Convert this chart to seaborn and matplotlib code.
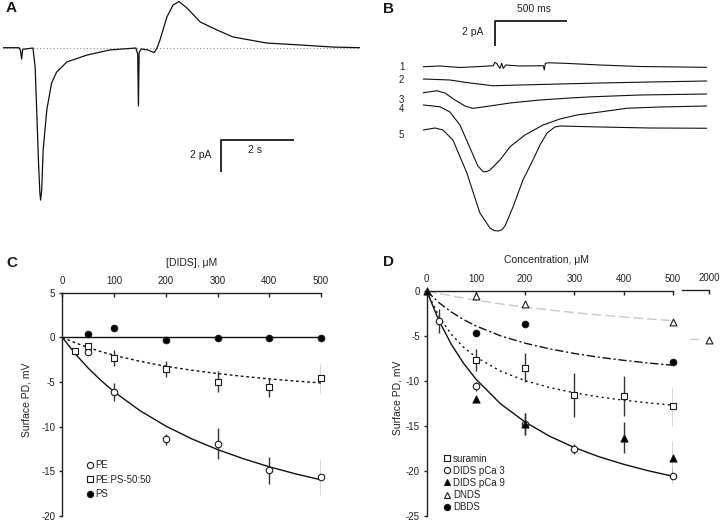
import matplotlib
matplotlib.use("Agg")
import matplotlib.pyplot as plt
import seaborn as sns
import numpy as np
from matplotlib.lines import Line2D

# ---------------- data ----------------
# Panel A: current trace (time in s, current in pA)
a_time = [0, 0.44, 0.48, 0.51, 0.54, 0.82, 0.88, 0.93, 0.97, 1.01, 1.03, 1.06, 1.10,
          1.20, 1.33, 1.47, 1.61, 1.75, 2.30, 2.93, 3.64, 3.69, 3.71, 3.73, 3.79,
          3.97, 4.14, 4.22, 4.30, 4.49, 4.66, 4.82, 5.04, 5.40, 5.86, 6.30, 7.23,
          8.14, 9.04, 9.78]
a_current = [0, 0, -0.2, -0.71, -0.1, -0.02, -1.2, -4.33, -7.0, -9.08, -9.52, -8.9,
             -6.39, -3.89, -2.21, -1.52, -1.21, -0.89, -0.46, -0.14, -0.02, -0.4,
             -3.64, -0.3, -0.08, -0.14, -0.31, -0.02, 0.48, 1.92, 2.67, 2.88, 2.48,
             1.61, 1.11, 0.67, 0.29, 0.17, 0.04, 0]

# Panel B: five current traces (time in s, current in pA, relative to own baseline)
b_labels = ["1", "2", "3", "4", "5"]
b_t1 = [0, 0.116, 0.256, 0.395, 0.488, 0.500, 0.512, 0.535, 0.547, 0.558, 0.575,
        0.674, 0.837, 0.844, 0.851, 0.872, 1.000, 1.232, 1.511, 1.790, 1.976]
b_i1 = [0, 0.06, -0.06, 0.02, 0.08, 0.35, 0.27, -0.13, 0.27, -0.13, 0.14, 0.06,
        0.08, -0.26, 0.27, 0.32, 0.27, 0.14, 0.02, -0.02, -0.05]
b_t2 = [0, 0.186, 0.326, 0.486, 0.674, 0.953, 1.232, 1.581, 1.976]
b_i2 = [0, -0.08, -0.32, -0.54, -0.48, -0.40, -0.32, -0.24, -0.16]
b_t3 = [0, 0.096, 0.151, 0.221, 0.291, 0.346, 0.465, 0.605, 0.814, 1.023, 1.183,
        1.511, 1.976]
b_i3 = [0, 0.16, -0.02, -0.58, -1.06, -1.25, -1.06, -0.82, -0.58, -0.42, -0.32,
        -0.18, -0.10]
b_t4 = [0, 0.116, 0.186, 0.256, 0.326, 0.381, 0.418, 0.444, 0.465, 0.535, 0.605,
        0.709, 0.835, 0.953, 1.072, 1.232, 1.420, 1.651, 1.976]
b_i4 = [0, -0.14, -0.56, -1.6, -3.44, -4.88, -5.34, -5.32, -5.2, -4.4, -3.34, -2.4,
        -1.6, -1.12, -0.8, -0.56, -0.26, -0.16, -0.08]
b_t5 = [0, 0.082, 0.137, 0.207, 0.304, 0.395, 0.465, 0.493, 0.523, 0.549, 0.570,
        0.626, 0.695, 0.765, 0.814, 0.863, 0.918, 0.953, 1.232, 1.581, 1.976]
b_i5 = [0, 0.16, 0, -0.8, -3.44, -6.64, -7.84, -8.04, -8.08, -7.98, -7.68, -6.16,
        -4.0, -2.4, -1.2, -0.24, 0.24, 0.32, 0.24, 0.16, 0.14]

# Panel C: surface potential vs [DIDS]
c_pe_x = [50, 100, 200, 300, 400, 500]
c_pe_y = [-1.6, -6.1, -11.4, -11.9, -14.9, -15.6]
c_pe_err = [0, 1.0, 0.6, 1.7, 1.5, 2.0]
c_peps_x = [25, 50, 100, 200, 300, 400, 500]
c_peps_y = [-1.5, -0.95, -2.35, -3.55, -4.95, -5.6, -4.6]
c_peps_err = [0, 0.2, 0.9, 0.9, 1.2, 1.1, 1.6]
c_ps_x = [50, 100, 200, 300, 400, 500]
c_ps_y = [0.4, 1.1, -0.3, -0.1, -0.05, -0.1]
c_fit_x = [0, 25, 50, 75, 100, 150, 200, 250, 300, 350, 400, 450, 500]
c_fit_pe = [0, -1.84, -3.44, -4.84, -6.09, -8.20, -9.93, -11.36, -12.56, -13.59,
            -14.49, -15.27, -15.95]
c_fit_peps = [0, -0.61, -1.14, -1.60, -2.00, -2.68, -3.23, -3.68, -4.05, -4.37,
              -4.65, -4.89, -5.10]
c_fit_ps = [0] * 13
c_legend = ["PE", "PE:PS-50:50", "PS"]

# Panel D: surface potential vs concentration
d_sur_x = [100, 200, 300, 400, 500]
d_sur_y = [-7.65, -8.5, -11.55, -11.65, -12.8]
d_sur_err = [1.25, 1.65, 2.4, 2.2, 2.15]
d_p3_x = [25, 100, 200, 300, 500]
d_p3_y = [-3.33, -10.6, -14.8, -17.55, -20.5]
d_p3_err = [1.3, 0.5, 1.2, 0.6, 0.9]
d_p9_x = [0, 100, 200, 400, 500]
d_p9_y = [0, -11.95, -14.8, -16.3, -18.6]
d_p9_err = [0, 0, 1.2, 1.7, 1.9]
d_dnds_x = [100, 200, 500]
d_dnds_y = [-0.55, -1.4, -3.4]
d_dnds_2000 = -5.6
d_dbds_x = [100, 200, 500]
d_dbds_y = [-4.63, -3.65, -7.9]
d_fit_x = [0, 25, 50, 75, 100, 150, 200, 250, 300, 350, 400, 450, 500]
d_fit_sur = [0, -2.85, -4.81, -6.25, -7.34, -8.90, -9.96, -10.73, -11.31, -11.76,
             -12.13, -12.43, -12.68]
d_fit_p3 = [0, -3.30, -5.92, -8.04, -9.79, -12.53, -14.56, -16.14, -17.39, -18.41,
            -19.25, -19.97, -20.58]
d_fit_dbds = [0, -1.30, -2.33, -3.18, -3.88, -4.98, -5.80, -6.43, -6.94, -7.36,
              -7.70, -8.00, -8.25]
d_fit_dnds = [0, -0.28, -0.54, -0.79, -1.02, -1.43, -1.79, -2.11, -2.40, -2.66,
              -2.89, -3.10, -3.30]
d_fit_dnds_hi_x = [1963, 1978]
d_fit_dnds_hi = [-5.55, -5.57]
d_legend = ["suramin", "DIDS pCa 3", "DIDS pCa 9", "DNDS", "DBDS"]

# ---------------- style ----------------
sns.set_theme(style="ticks")
plt.rcParams['font.family'] = ['Liberation Sans', 'DejaVu Sans']
plt.rcParams['axes.unicode_minus'] = False
TXT = '#222222'
W, H = 720, 521
fig = plt.figure(figsize=(7.2, 5.21), dpi=100)


def add_ax(x0, y0, x1, y1):
    ax = fig.add_axes([x0 / W, 1 - y1 / H, (x1 - x0) / W, (y1 - y0) / H])
    ax.patch.set_alpha(0)
    return ax


def line(ax, x, y, **kw):
    sns.lineplot(x=x, y=y, ax=ax, sort=False, estimator=None, legend=False, **kw)


# ---------------- panel A ----------------
axA = add_ax(3, 0, 360, 210)
axA.set_xlim(0, 9.78)
axA.set_ylim(-10.14, 2.98)
axA.axis('off')
line(axA, [a_time[0], a_time[-1]], [0, 0], color='#8c8c8c', linestyle=(0, (1, 2)), lw=0.8)
line(axA, a_time, a_current, color='#111111', lw=0.9)
axA.plot([5.97, 5.97, 7.98], [-7.75, -5.77, -5.77], color='k', lw=1.3, solid_capstyle='butt')
axA.text(5.70, -6.71, "2 pA", ha='right', va='center', fontsize=7.5, color=TXT)
axA.text(6.90, -6.39, "2 s", ha='center', va='center', fontsize=7.5, color=TXT)
fig.text(6 / W, 1 - 8.5 / H, "A", fontsize=11, fontweight='bold', va='center', ha='left', color='k')

# ---------------- panel B ----------------
axB = add_ax(360, 0, 720, 245)
axB.set_xlim(-0.441, 2.069)
axB.set_ylim(-14.26, 5.34)
axB.axis('off')
b_offsets = [0, -0.98, -2.08, -3.06, -5.06]
b_label_y = [0, -1.06, -2.66, -3.38, -5.46]
for (t, i), off, lab, ly in zip([(b_t1, b_i1), (b_t2, b_i2), (b_t3, b_i3), (b_t4, b_i4), (b_t5, b_i5)],
                                b_offsets, b_labels, b_label_y):
    line(axB, t, [v + off for v in i], color='#111111', lw=0.8)
    axB.text(-0.151, ly, lab, ha='center', va='center', fontsize=7, color=TXT)
axB.plot([0.5, 0.5, 1.0], [1.68, 3.68, 3.68], color='k', lw=1.3, solid_capstyle='butt')
axB.text(0.418, 2.8, "2 pA", ha='right', va='center', fontsize=7.5, color=TXT)
axB.text(0.772, 4.62, "500 ms", ha='center', va='center', fontsize=7.5, color=TXT)
fig.text(383 / W, 1 - 9 / H, "B", fontsize=11, fontweight='bold', va='center', ha='left', color='k')


def style_axis(ax, xticks, yticks, xlabel, ylabel, ylab_x, ylab_y):
    sns.despine(ax=ax, top=False, right=True, bottom=True, left=False)
    for s in ('top', 'left'):
        ax.spines[s].set_linewidth(1.0)
        ax.spines[s].set_color('#222222')
    ax.xaxis.tick_top()
    ax.xaxis.set_label_position('top')
    ax.set_xticks(xticks)
    ax.set_yticks(yticks)
    ax.set_yticklabels([str(v) for v in yticks])
    ax.tick_params(axis='x', direction='in', length=3, width=1, pad=5, labelsize=7, colors=TXT)
    ax.tick_params(axis='y', direction='out', length=2.5, width=1, pad=2.5, labelsize=7, colors=TXT)
    ax.set_xlabel(xlabel, fontsize=7.5, color=TXT)
    ax.set_ylabel(ylabel, fontsize=7.5, color=TXT)
    ax.yaxis.set_label_coords(ylab_x, ylab_y)


def errbars(ax, x, y, e):
    lo = [a - b for a, b in zip(y, e)]
    hi = [a + b for a, b in zip(y, e)]
    ax.vlines(x, lo, hi, color='#333333', lw=1.0, zorder=2)


def pts(ax, x, y, marker, face, s=22, **kw):
    sns.scatterplot(x=x, y=y, ax=ax, marker=marker, s=s, color=face, edgecolor='k',
                    linewidth=0.8, zorder=5, clip_on=False, legend=False, **kw)


# ---------------- panel C ----------------
axC = add_ax(62.3, 292.7, 321, 516)
axC.set_xlim(0, 500)
axC.set_ylim(-20, 5)
style_axis(axC, [0, 100, 200, 300, 400, 500], [5, 0, -5, -10, -15, -20],
           "[DIDS], μM", "Surface PD, mV", -0.118, 0.52)
axC.xaxis.set_label_coords(0.5, 1.12)
line(axC, c_fit_x, c_fit_ps, color='#111111', lw=1.0)
line(axC, c_fit_x, c_fit_pe, color='#111111', lw=1.0)
line(axC, c_fit_x, c_fit_peps, color='#111111', lw=1.0, linestyle=(0, (2, 2)))
errbars(axC, c_pe_x, c_pe_y, c_pe_err)
errbars(axC, c_peps_x, c_peps_y, c_peps_err)
pts(axC, c_pe_x, c_pe_y, 'o', 'white')
pts(axC, c_peps_x, c_peps_y, 's', 'white')
pts(axC, c_ps_x, c_ps_y, 'o', 'black')
hC = [Line2D([], [], ls='none', marker='o', mfc='white', mec='k', ms=4.5, mew=0.8),
      Line2D([], [], ls='none', marker='s', mfc='white', mec='k', ms=4.5, mew=0.8),
      Line2D([], [], ls='none', marker='o', mfc='black', mec='k', ms=4.5, mew=0.8)]
legC = axC.legend(hC, c_legend, loc='upper left', bbox_to_anchor=(86.9 / W, 1 - 460 / H),
                  bbox_transform=fig.transFigure, frameon=False, fontsize=7,
                  handlelength=0.6, handletextpad=0.3, labelspacing=0.48,
                  borderpad=0, borderaxespad=0)
for t in legC.get_texts():
    t.set_color(TXT)
fig.text(6.5 / W, 1 - 263 / H, "C", fontsize=11, fontweight='bold', va='center', ha='left', color='k')

# ---------------- panel D ----------------
axD = add_ax(426.7, 291, 672.7, 516)
axD.set_xlim(0, 500)
axD.set_ylim(-25, 0)
style_axis(axD, [0, 100, 200, 300, 400, 500], [0, -5, -10, -15, -20, -25],
           "Concentration, μM", "Surface PD, mV", -0.097, 0.524)
axD.xaxis.set_label_coords(0.488, 1.125)
line(axD, d_fit_x, d_fit_dnds, color='#c8c8c8', lw=1.0, linestyle=(0, (7, 3)))
line(axD, d_fit_x, d_fit_dbds, color='#111111', lw=1.0, linestyle=(0, (6, 2, 1.5, 2)))
line(axD, d_fit_x, d_fit_sur, color='#111111', lw=1.0, linestyle=(0, (1.5, 2.5)))
line(axD, d_fit_x, d_fit_p3, color='#111111', lw=1.0)
errbars(axD, d_sur_x, d_sur_y, d_sur_err)
errbars(axD, d_p3_x, d_p3_y, d_p3_err)
errbars(axD, d_p9_x, d_p9_y, d_p9_err)
pts(axD, d_sur_x, d_sur_y, 's', 'white')
pts(axD, d_p3_x, d_p3_y, 'o', 'white')
pts(axD, d_p9_x, d_p9_y, '^', 'black', s=26)
pts(axD, d_dnds_x, d_dnds_y, '^', 'white', s=24)
pts(axD, d_dbds_x, d_dbds_y, 'o', 'black')

# broken axis segment for 2000 uM
axD2 = add_ax(681.7, 289.5, 709.3, 514.5)
axD2.set_xlim(1945, 2000)
axD2.set_ylim(-25, 0)
sns.despine(ax=axD2, top=False, right=True, bottom=True, left=True)
axD2.spines['top'].set_linewidth(1.0)
axD2.spines['top'].set_color('#222222')
axD2.xaxis.tick_top()
axD2.set_xticks([2000])
axD2.set_yticks([])
axD2.tick_params(axis='x', direction='in', length=3, width=1, pad=5, labelsize=7, colors=TXT)
line(axD2, d_fit_dnds_hi_x, d_fit_dnds_hi, color='#c8c8c8', lw=1.0)
pts(axD2, [2000], [d_dnds_2000], '^', 'white', s=24)

hD = [Line2D([], [], ls='none', marker='s', mfc='white', mec='k', ms=4.5, mew=0.8),
      Line2D([], [], ls='none', marker='o', mfc='white', mec='k', ms=4.5, mew=0.8),
      Line2D([], [], ls='none', marker='^', mfc='black', mec='k', ms=5, mew=0.8),
      Line2D([], [], ls='none', marker='^', mfc='white', mec='k', ms=5, mew=0.8),
      Line2D([], [], ls='none', marker='o', mfc='black', mec='k', ms=4.5, mew=0.8)]
legD = axD.legend(hD, d_legend, loc='upper left', bbox_to_anchor=(444.3 / W, 1 - 453.5 / H),
                  bbox_transform=fig.transFigure, frameon=False, fontsize=7,
                  handlelength=0.6, handletextpad=0.3, labelspacing=0.22,
                  borderpad=0, borderaxespad=0)
for t in legD.get_texts():
    t.set_color(TXT)
fig.text(383 / W, 1 - 262 / H, "D", fontsize=11, fontweight='bold', va='center', ha='left', color='k')

fig.savefig("out.png", dpi=100)
